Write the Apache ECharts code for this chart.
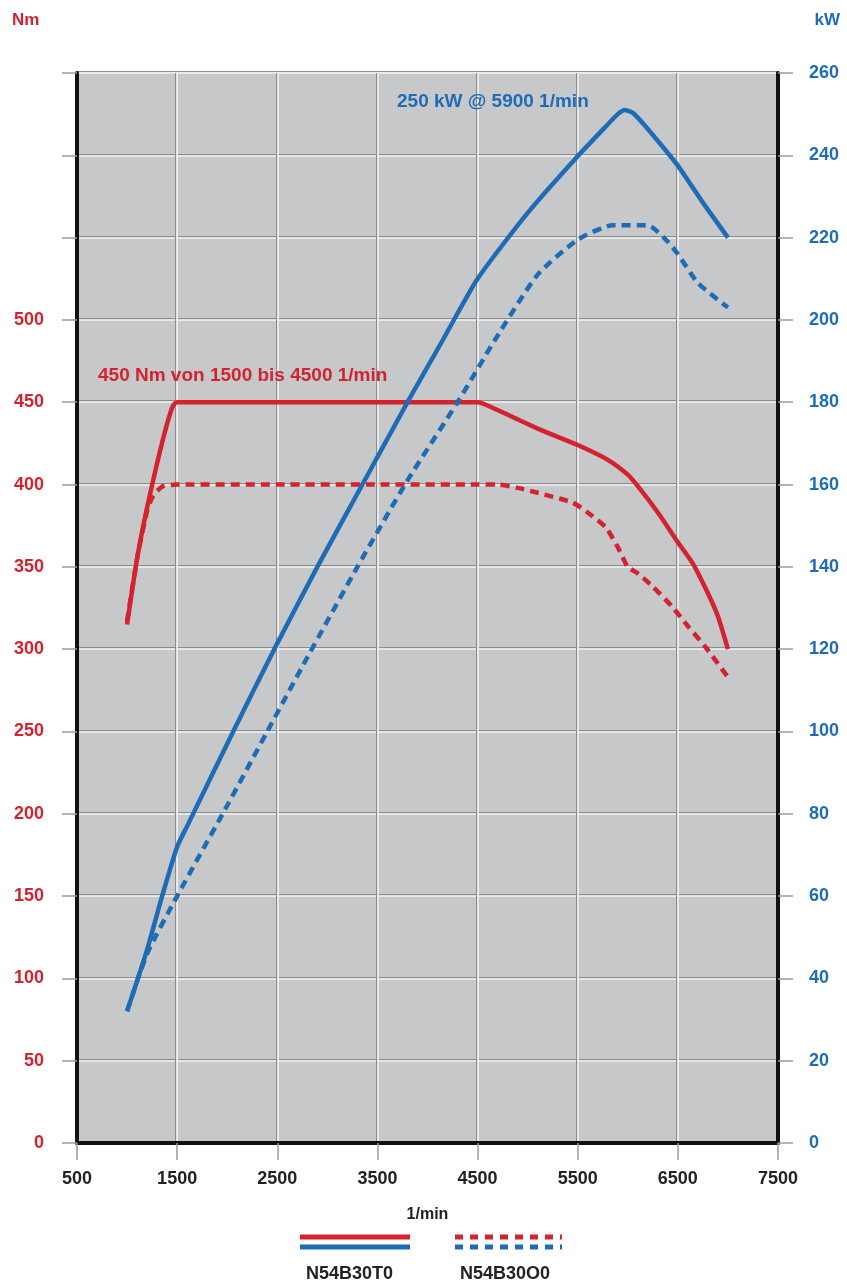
<!DOCTYPE html>
<html>
<head>
<meta charset="utf-8">
<script src="https://cdn.jsdelivr.net/npm/echarts@6/dist/echarts.min.js"></script>
<style>
html,body{margin:0;padding:0;background:#fff;}
#c{width:847px;height:1283px;}
</style>
</head>
<body>
<div id="c"></div>
<script>
// ---- data ----
const rpmTorqueT0 = [1000, 1100, 1200, 1300, 1400, 1460, 1500, 2500, 3500, 4500, 4600, 5100, 5500, 5800, 6000, 6100, 6300, 6500, 6650, 6800, 6900, 7000];
const torqueT0    = [315, 355, 386, 413, 437, 448, 450, 450, 450, 450, 448, 434, 424, 415, 406, 399, 383, 365, 352, 334, 320, 300];

const rpmTorqueO0 = [1000, 1100, 1200, 1250, 1300, 1360, 1500, 2500, 3500, 4500, 4700, 4900, 5100, 5450, 5600, 5780, 5900, 6000, 6100, 6250, 6440, 6600, 6780, 7000];
const torqueO0    = [317, 355, 384, 392, 396, 399, 400, 400, 400, 400, 400, 398, 395, 389, 383, 374, 362, 350, 346, 338, 326, 314, 301, 283];

const rpmPowerT0 = [1000, 1200, 1350, 1500, 1600, 2060, 2470, 2900, 3350, 3800, 4150, 4500, 5000, 5470, 5800, 5900, 5970, 6050, 6150, 6300, 6500, 6750, 7000];
const powerT0    = [32, 47, 60, 72, 77, 100, 120, 140, 160, 180, 195, 210, 226, 239, 247.5, 250, 251, 250.3, 247.8, 243.5, 237.5, 228.5, 220];

const rpmPowerO0 = [1000, 1200, 1500, 2000, 2400, 2800, 3300, 3800, 4300, 4670, 5100, 5500, 5850, 6200, 6400, 6500, 6700, 7000];
const powerO0    = [32, 46, 60, 82, 100, 118, 140, 161, 180, 195, 211, 219.5, 223, 223, 219, 216, 209, 203];

const xTicks = [500, 1500, 2500, 3500, 4500, 5500, 6500, 7500];
const torqueTicks = [0, 50, 100, 150, 200, 250, 300, 350, 400, 450, 500];
const powerTicks = [0, 20, 40, 60, 80, 100, 120, 140, 160, 180, 200, 220, 240, 260];
const legendNames = ['N54B30T0', 'N54B30O0'];
const noteTorque = '450 Nm von 1500 bis 4500 1/min';
const notePower = '250 kW @ 5900 1/min';

const RED = '#d4222e';
const BLUE = '#1f6cb6';
const FONT = '"Liberation Sans", Arial, sans-serif';

const zip = (a, b) => a.map((v, i) => [v, b[i]]);

const chart = echarts.init(document.getElementById('c'), null, {renderer: 'canvas'});

const splitH = {show: true, lineStyle: {color: '#f4f4f4', width: 1.6, shadowColor: '#8c8c8c', shadowOffsetY: -1.2, shadowBlur: 0}};
const splitV = {show: true, lineStyle: {color: '#f4f4f4', width: 1.6, shadowColor: '#8c8c8c', shadowOffsetX: -1.2, shadowBlur: 0}};

const option = {
  animation: false,
  backgroundColor: '#ffffff',
  grid: {left: 77, right: 69, top: 73, bottom: 140, show: true, backgroundColor: '#c7c8ca', borderWidth: 0},
  xAxis: {
    type: 'value', min: xTicks[0], max: xTicks[xTicks.length - 1], interval: 1000,
    name: '1/min', nameLocation: 'middle', nameGap: 64,
    nameTextStyle: {color: '#222', fontSize: 16, fontWeight: 'bold', fontFamily: FONT},
    axisLine: {show: true, onZero: false, lineStyle: {color: '#111', width: 4}},
    axisTick: {show: true, length: 17, lineStyle: {color: '#9a9a9a', width: 1.5}},
    axisLabel: {color: '#222', fontSize: 18, fontWeight: 'bold', fontFamily: FONT, margin: 27,
      formatter: v => xTicks.includes(v) ? String(v) : ''},
    splitLine: splitV
  },
  yAxis: [
    {
      type: 'value', min: 0, max: 650, interval: 50, position: 'left',
      axisLine: {show: true, onZero: false, lineStyle: {color: '#111', width: 4}},
      axisTick: {show: true, length: 15, lineStyle: {color: '#9a9a9a', width: 1.5}},
      axisLabel: {color: RED, fontSize: 18, fontWeight: 'bold', fontFamily: FONT, margin: 33,
        formatter: v => torqueTicks.includes(v) ? String(v) : ''},
      splitLine: splitH
    },
    {
      type: 'value', min: 0, max: 260, interval: 20, position: 'right',
      axisLine: {show: true, onZero: false, lineStyle: {color: '#111', width: 4}},
      axisTick: {show: true, length: 15, lineStyle: {color: '#9a9a9a', width: 1.5}},
      axisLabel: {color: BLUE, fontSize: 18, fontWeight: 'bold', fontFamily: FONT, margin: 31,
        formatter: v => powerTicks.includes(v) ? String(v) : ''},
      splitLine: {show: false}
    }
  ],
  series: [
    {type: 'line', name: legendNames[0] + ' Nm', yAxisIndex: 0, data: zip(rpmTorqueT0, torqueT0), symbol: 'none', smooth: 0.2,
      lineStyle: {color: RED, width: 4.5}, z: 3},
    {type: 'line', name: legendNames[1] + ' Nm', yAxisIndex: 0, data: zip(rpmTorqueO0, torqueO0), symbol: 'none', smooth: 0.2,
      lineStyle: {color: RED, width: 4.5, type: [9, 6]}, z: 3},
    {type: 'line', name: legendNames[0] + ' kW', yAxisIndex: 1, data: zip(rpmPowerT0, powerT0), symbol: 'none', smooth: 0.2,
      lineStyle: {color: BLUE, width: 4.5}, z: 4},
    {type: 'line', name: legendNames[1] + ' kW', yAxisIndex: 1, data: zip(rpmPowerO0, powerO0), symbol: 'none', smooth: 0.2,
      lineStyle: {color: BLUE, width: 4.5, type: [9, 6]}, z: 4}
  ],
  graphic: [
    {type: 'text', left: 12, top: 12, style: {text: 'Nm', fill: RED, font: 'bold 17px ' + FONT}},
    {type: 'text', right: 7, top: 12, style: {text: 'kW', fill: BLUE, font: 'bold 17px ' + FONT}},
    {type: 'text', left: 98, top: 366, z: 10, style: {text: noteTorque, fill: RED, font: 'bold 19px ' + FONT}},
    {type: 'text', left: 397, top: 92, z: 10, style: {text: notePower, fill: BLUE, font: 'bold 19px ' + FONT}},
    // legend: solid pair
    {type: 'line', shape: {x1: 300, y1: 1237, x2: 410, y2: 1237}, style: {stroke: RED, lineWidth: 5}},
    {type: 'line', shape: {x1: 300, y1: 1247, x2: 410, y2: 1247}, style: {stroke: BLUE, lineWidth: 5}},
    // legend: dashed pair
    {type: 'line', shape: {x1: 455, y1: 1237, x2: 562, y2: 1237}, style: {stroke: RED, lineWidth: 5, lineDash: [8, 7]}},
    {type: 'line', shape: {x1: 455, y1: 1247, x2: 562, y2: 1247}, style: {stroke: BLUE, lineWidth: 5, lineDash: [8, 7]}},
    {type: 'text', left: 306, top: 1265, style: {text: legendNames[0], fill: '#222', font: 'bold 18px ' + FONT}},
    {type: 'text', left: 460, top: 1265, style: {text: legendNames[1], fill: '#222', font: 'bold 18px ' + FONT}}
  ]
};
chart.setOption(option);
</script>
</body>
</html>
